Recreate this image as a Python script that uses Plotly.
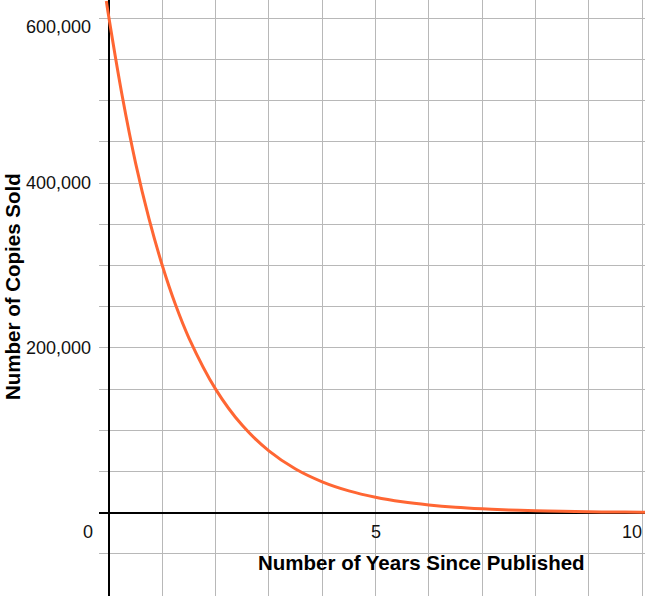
import plotly.graph_objects as go

# values
years = [-0.05, 0, 0.25, 0.5, 0.75, 1, 1.25, 1.5, 2, 2.5, 3, 3.5, 4, 4.5, 5,
         5.5, 6, 6.5, 7, 7.5, 8, 8.5, 9, 9.5, 10, 10.1]
copies = [621000, 600000, 505000, 424000, 357000, 300000, 252000, 212000,
          150000, 106000, 75000, 53000, 37500, 26500, 18750, 13250, 9400,
          6600, 4700, 3300, 2300, 1650, 1200, 800, 600, 550]

x_tick_vals = [0, 5, 10]
x_tick_text = ["0", "5", "10"]
y_tick_vals = [200000, 400000, 600000]
y_tick_text = ["200,000", "400,000", "600,000"]

x_title = "Number of Years Since Published"
y_title = "Number of Copies Sold"

FONT = "Liberation Sans, Arial, Helvetica, sans-serif"

fig = go.Figure()
fig.add_trace(go.Scatter(
    x=years, y=copies, mode="lines",
    line=dict(color="#FF6633", width=3, shape="spline"),
    hoverinfo="skip", showlegend=False,
))

ann = []
for v, t in zip(y_tick_vals, y_tick_text):
    ann.append(dict(x=0, y=v, xref="x", yref="y", text=t, showarrow=False,
                    xanchor="right", yanchor="middle", xshift=-16,
                    yshift=-9 if v == 600000 else 0,
                    font=dict(size=18, color="#111")))
x_shifts = {0: -21, 5: 0, 10: -10}
for v, t in zip(x_tick_vals, x_tick_text):
    ann.append(dict(x=v, y=0, xref="x", yref="y", text=t, showarrow=False,
                    xanchor="center", yanchor="middle", xshift=x_shifts[v],
                    yshift=-19, font=dict(size=18, color="#111")))
ann.append(dict(x=5.87, y=-61000, xref="x", yref="y", text="<b>" + x_title + "</b>",
                showarrow=False, xanchor="center", yanchor="middle",
                font=dict(size=20.5, color="#000")))
# y title placed in paper coords, from its pixel position
ann.append(dict(x=(12 - 99) / 546, y=(596 - 287) / 596, xref="paper", yref="paper",
                text="<b>" + y_title + "</b>", showarrow=False, textangle=-90,
                xanchor="center", yanchor="middle",
                font=dict(size=20.5, color="#000")))

fig.update_layout(
    width=645, height=596,
    margin=dict(l=99, r=0, t=0, b=0),
    paper_bgcolor="white", plot_bgcolor="white",
    font=dict(family=FONT, size=18, color="#111"),
    annotations=ann,
    xaxis=dict(range=[-0.1876, 10.056], tick0=0, dtick=1, showgrid=True,
               gridcolor="#b8b8b8", gridwidth=1, showticklabels=False,
               ticks="", zeroline=True, zerolinecolor="#000", zerolinewidth=2,
               showline=False, fixedrange=True),
    yaxis=dict(range=[-101100, 622200], tick0=0, dtick=50000, showgrid=True,
               gridcolor="#b8b8b8", gridwidth=1, showticklabels=False,
               ticks="", zeroline=True, zerolinecolor="#000", zerolinewidth=2,
               showline=False, fixedrange=True),
)

# drop the page's default body margin so the figure sits at the window corner
fig.write_html("out.html", config={"displayModeBar": False},
               post_script="document.body.style.margin='0';document.body.style.overflow='hidden';")
